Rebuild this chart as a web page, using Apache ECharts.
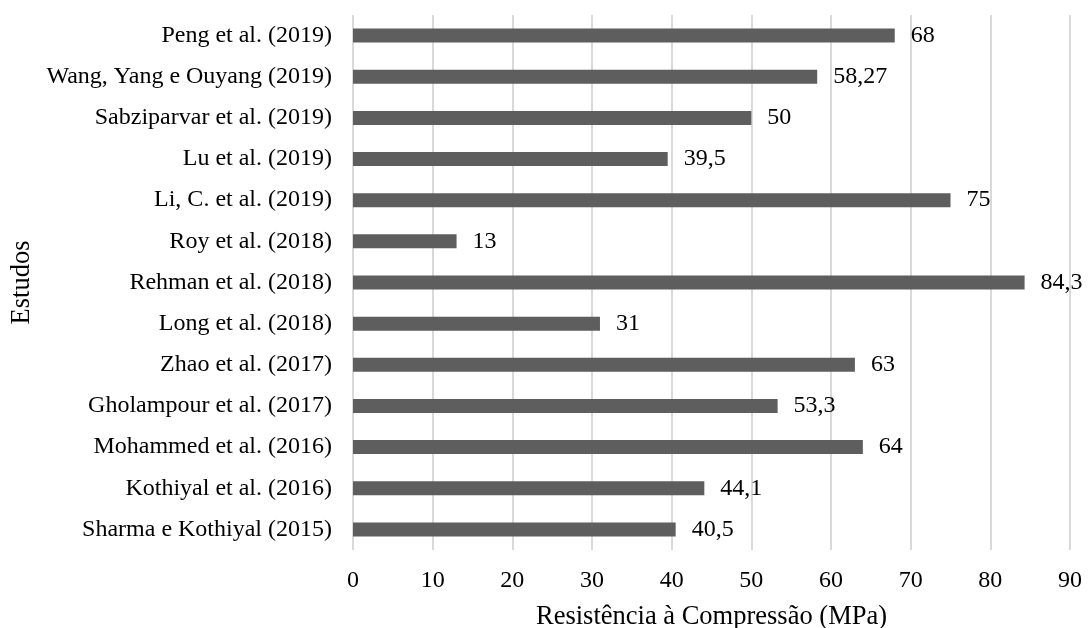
<!DOCTYPE html>
<html>
<head>
<meta charset="utf-8">
<script src="https://cdn.jsdelivr.net/npm/echarts@6/dist/echarts.min.js"></script>
<style>
  html, body { margin: 0; padding: 0; background: #fff; }
  #chart { width: 1088px; height: 628px; }
</style>
</head>
<body>
<div id="chart"></div>
<script>
// Studies, listed top to bottom
const studies = [
  'Peng et al. (2019)',
  'Wang, Yang e Ouyang (2019)',
  'Sabziparvar et al. (2019)',
  'Lu et al. (2019)',
  'Li, C. et al. (2019)',
  'Roy et al. (2018)',
  'Rehman et al. (2018)',
  'Long et al. (2018)',
  'Zhao et al. (2017)',
  'Gholampour et al. (2017)',
  'Mohammed et al. (2016)',
  'Kothiyal et al. (2016)',
  'Sharma e Kothiyal (2015)'
];

// Compressive strength (MPa) for each study
const strength = [68, 58.27, 50, 39.5, 75, 13, 84.3, 31, 63, 53.3, 64, 44.1, 40.5];

const xTicks = { min: 0, max: 90, interval: 10 };

const FONT = '"Liberation Serif", "Times New Roman", serif';
const textStyle = { fontFamily: FONT, fontSize: 24, color: '#000' };
const nameStyle = { fontFamily: FONT, fontSize: 26.5, color: '#000' };

const chart = echarts.init(document.getElementById('chart'));
chart.setOption({
  animation: false,
  grid: {
    left: 353, right: 18, top: 15, bottom: 78,
    containLabel: false,
    outerBoundsMode: 'none'
  },
  xAxis: {
    type: 'value',
    min: xTicks.min, max: xTicks.max, interval: xTicks.interval,
    name: 'Resistência à Compressão (MPa)',
    nameLocation: 'middle',
    nameGap: 54,
    nameTextStyle: nameStyle,
    axisLine: { show: false },
    axisTick: { show: false },
    axisLabel: Object.assign({ margin: 19 }, textStyle),
    splitLine: { show: true, lineStyle: { color: '#d9d9d9', width: 2 } }
  },
  yAxis: {
    type: 'category',
    data: studies,
    inverse: true,
    name: 'Estudos',
    nameLocation: 'middle',
    nameGap: 315,
    nameRotate: 90,
    nameTextStyle: nameStyle,
    axisLine: { show: false },
    axisTick: { show: false },
    axisLabel: Object.assign({ margin: 21 }, textStyle)
  },
  series: [{
    type: 'bar',
    data: strength,
    barWidth: 14,
    itemStyle: { color: '#5e5e5e' },
    label: {
      show: true,
      position: 'right',
      distance: 16,
      fontFamily: FONT, fontSize: 24, color: '#000',
      formatter: p => String(p.value).replace('.', ',')
    }
  }]
});
</script>
</body>
</html>
